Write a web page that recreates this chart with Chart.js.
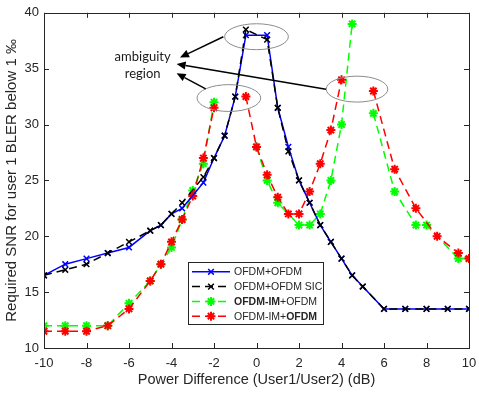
<!DOCTYPE html>
<html>
<head>
<meta charset="utf-8">
<script src="https://cdn.jsdelivr.net/npm/chart.js@4/dist/chart.umd.min.js"></script>
<style>
  html, body { margin: 0; padding: 0; background: #fff; }
  #wrap { width: 479px; height: 393px; position: relative; }
</style>
</head>
<body>
<div id="wrap"><canvas id="snr_chart"></canvas></div>
<script>
// power difference values (dB) and required SNR
const ofdmX = [-10, -9, -8, -7, -6, -5, -4.5, -4, -3.5, -2.5, -2, -1.5, -1, -0.5, 0.5, 1, 1.5, 2, 2.5, 3, 3.5, 4, 4.5, 5, 6, 7, 8, 9, 10];
const ofdmY = [16.5, 17.5, 18, 18.5, 19, 20.5, 21, 22, 22.5, 24.8, 27, 29, 32.5, 38, 38, 31.5, 28, 25, 23, 21, 19.5, 18, 16.5, 15.5, 13.5, 13.5, 13.5, 13.5, 13.5];
const sicX = ofdmX;
const sicY = [16.5, 17, 17.5, 18.5, 19.5, 20.5, 21, 22, 23, 25.3, 27, 29, 32.5, 38.5, 37.6, 31.5, 27.6, 25, 23, 21, 19.5, 18, 16.5, 15.5, 13.5, 13.5, 13.5, 13.5, 13.5];
// null = break in the curve
const imOfdmX = [-10, -9, -8, -7, -6, -5, -4.5, -4, -3.5, -3, -2.5, -2, -1, 0, 0.5, 1, 2, 2.5, 3, 3.5, 4, 4.5, 5, 5.5, 6.5, 7.5, 8, 9.5, 10];
const imOfdmY = [12, 12, 12, 12, 14, 16, 17.5, 19, 21.5, 24.1, 26.5, 32, null, 28, 25, 23, 21, 21, 22, 25, 30, 39, null, 31, 24, 21, 21, 18, 18];
const ofdmImX = [-10, -9, -8, -7, -6, -5, -4.5, -4, -3.5, -3, -2.5, -2, -1, -0.5, 0, 0.5, 1, 1.5, 2, 2.5, 3, 3.5, 4, 5, 5.5, 6.5, 7.5, 8.5, 9.5, 10];
const ofdmImY = [11.5, 11.5, 11.5, 12, 13.5, 16, 17.5, 19.5, 21.5, 23.6, 27, 31.5, null, 32.5, 28, 25.5, 23.5, 22, 22, 24, 26.5, 29.5, 34, null, 33, 26, 22.5, 20, 18.5, 18];

const xTicks = [-10, -8, -6, -4, -2, 0, 2, 4, 6, 8, 10];
const yTicks = [10, 15, 20, 25, 30, 35, 40];

// annotation: ellipses (cx, cy, rx, ry in data units), arrows and label
const ellipseCx = [0, -1.3, 4.73];
const ellipseCy = [37.86, 32.37, 33.17];
const ellipseRx = [1.5, 1.5, 1.45];
const ellipseRy = [1.16, 1.2, 1.16];
const arrowFrom = [[-1.56, 37.86], [3.27, 33.15], [-2.39, 33.19]];
const arrowTo = [[-3.6, 36.0], [-3.76, 35.42], [-3.76, 34.58]];
const noteLines = ["ambiguity", "region"];
const noteX = -5.36;
const noteY = [36.07, 34.58];

const legendItems = [
  [["OFDM+OFDM", false]],
  [["OFDM+OFDM SIC", false]],
  [["OFDM-IM", true], ["+OFDM", false]],
  [["OFDM-IM+", false], ["OFDM", true]]
];

const zip = (xs, ys) => xs.map((x, i) => ({ x: x, y: ys[i] }));

const AXIS_COL = "#262626";
const FONT = "'Liberation Sans', Arial, sans-serif";

function drawMarker(ctx, style, x, y, r, col, lw) {
  ctx.save();
  ctx.strokeStyle = col;
  ctx.lineWidth = lw;
  ctx.setLineDash([]);
  ctx.beginPath();
  const d = r * Math.SQRT1_2;
  ctx.moveTo(x - d, y - d); ctx.lineTo(x + d, y + d);
  ctx.moveTo(x - d, y + d); ctx.lineTo(x + d, y - d);
  if (style === "star") {
    ctx.moveTo(x - r, y); ctx.lineTo(x + r, y);
    ctx.moveTo(x, y - r); ctx.lineTo(x, y + r);
  }
  ctx.stroke();
  ctx.restore();
}

const annotate = {
  id: "annotate",
  afterDatasetsDraw(chart) {
    const ctx = chart.ctx;
    const xs = chart.scales.x, ys = chart.scales.y;
    const a = chart.chartArea;
    ctx.save();
    // box and inward ticks
    ctx.strokeStyle = AXIS_COL;
    ctx.lineWidth = 1;
    ctx.setLineDash([]);
    ctx.strokeRect(Math.round(a.left) + 0.5, Math.round(a.top) + 0.5, Math.round(a.right - a.left), Math.round(a.bottom - a.top));
    ctx.beginPath();
    for (const t of xTicks) {
      const px = Math.round(xs.getPixelForValue(t)) + 0.5;
      ctx.moveTo(px, a.bottom); ctx.lineTo(px, a.bottom - 5);
      ctx.moveTo(px, a.top); ctx.lineTo(px, a.top + 5);
    }
    for (const t of yTicks) {
      const py = Math.round(ys.getPixelForValue(t)) + 0.5;
      ctx.moveTo(a.left, py); ctx.lineTo(a.left + 5, py);
      ctx.moveTo(a.right, py); ctx.lineTo(a.right - 5, py);
    }
    ctx.stroke();

    // ellipses
    ctx.strokeStyle = "#8c8c8c";
    ctx.lineWidth = 1;
    for (let i = 0; i < ellipseCx.length; i++) {
      const cx = xs.getPixelForValue(ellipseCx[i]);
      const cy = ys.getPixelForValue(ellipseCy[i]);
      const rx = Math.abs(xs.getPixelForValue(ellipseCx[i] + ellipseRx[i]) - cx);
      const ry = Math.abs(ys.getPixelForValue(ellipseCy[i] + ellipseRy[i]) - cy);
      ctx.beginPath();
      ctx.ellipse(cx, cy, rx, ry, 0, 0, Math.PI * 2);
      ctx.stroke();
    }

    // arrows
    ctx.strokeStyle = "#000";
    ctx.fillStyle = "#000";
    ctx.lineWidth = 1.5;
    for (let i = 0; i < arrowFrom.length; i++) {
      const x0 = xs.getPixelForValue(arrowFrom[i][0]), y0 = ys.getPixelForValue(arrowFrom[i][1]);
      const x1 = xs.getPixelForValue(arrowTo[i][0]), y1 = ys.getPixelForValue(arrowTo[i][1]);
      const ang = Math.atan2(y1 - y0, x1 - x0);
      const hl = 9, hw = 4;
      const bx = x1 - hl * Math.cos(ang), by = y1 - hl * Math.sin(ang);
      ctx.beginPath();
      ctx.moveTo(x0, y0); ctx.lineTo(bx, by);
      ctx.stroke();
      ctx.beginPath();
      ctx.moveTo(x1, y1);
      ctx.lineTo(bx + hw * Math.sin(ang), by - hw * Math.cos(ang));
      ctx.lineTo(bx - hw * Math.sin(ang), by + hw * Math.cos(ang));
      ctx.closePath();
      ctx.fill();
    }

    // note text
    ctx.fillStyle = "#1a1a1a";
    ctx.font = "13px Lato, 'Open Sans', sans-serif";
    ctx.textAlign = "center";
    ctx.textBaseline = "middle";
    noteLines.forEach((s, i) => {
      ctx.fillText(s, xs.getPixelForValue(noteX), ys.getPixelForValue(noteY[i]));
    });

    // legend
    const lx = a.left + 144, ly = a.top + 249, lw = 135, lh = 62;
    ctx.fillStyle = "#fff";
    ctx.fillRect(lx, ly, lw, lh);
    ctx.strokeStyle = "#262626";
    ctx.lineWidth = 1;
    ctx.strokeRect(Math.round(lx) + 0.5, Math.round(ly) + 0.5, lw, lh);
    const sets = chart.data.datasets;
    ctx.textAlign = "left";
    ctx.textBaseline = "middle";
    legendItems.forEach((parts, i) => {
      const ds = sets[i];
      const yy = ly + 10 + i * 14.8;
      ctx.strokeStyle = ds.borderColor;
      ctx.lineWidth = 1.5;
      ctx.setLineDash(ds.borderDash || []);
      ctx.beginPath();
      ctx.moveTo(lx + 4, yy); ctx.lineTo(lx + 42, yy);
      ctx.stroke();
      ctx.setLineDash([]);
      drawMarker(ctx, ds.pointStyle === "star" ? "star" : "x", lx + 23, yy, ds.pointRadius, ds.borderColor, ds.pointBorderWidth);
      let tx = lx + 46;
      ctx.fillStyle = AXIS_COL;
      for (const [txt, bold] of parts) {
        ctx.font = (bold ? "bold " : "") + "10.5px " + FONT;
        ctx.fillText(txt, tx, yy + 0.5);
        tx += ctx.measureText(txt).width;
      }
    });
    ctx.restore();
  }
};

const ctx = document.getElementById("snr_chart").getContext("2d");
const snr_chart = new Chart(ctx, {
  type: "line",
  data: {
    datasets: [
      {
        label: "OFDM+OFDM",
        data: zip(ofdmX, ofdmY),
        borderColor: "#0000ff",
        borderWidth: 1.5,
        pointStyle: "crossRot",
        pointRadius: 4,
        pointBorderWidth: 1.5,
        order: 2
      },
      {
        label: "OFDM+OFDM SIC",
        data: zip(sicX, sicY),
        borderColor: "#000000",
        borderWidth: 1.5,
        borderDash: [8, 5],
        pointStyle: "crossRot",
        pointRadius: 4,
        pointBorderWidth: 1.5,
        order: 1
      },
      {
        label: "OFDM-IM+OFDM",
        data: zip(imOfdmX, imOfdmY),
        borderColor: "#00ff00",
        borderWidth: 1.5,
        borderDash: [8, 5],
        pointStyle: "star",
        pointRadius: 4.5,
        pointBorderWidth: 2,
        order: 4
      },
      {
        label: "OFDM-IM+OFDM",
        data: zip(ofdmImX, ofdmImY),
        borderColor: "#ff0000",
        borderWidth: 1.5,
        borderDash: [8, 5],
        pointStyle: "star",
        pointRadius: 4.5,
        pointBorderWidth: 2,
        order: 3
      }
    ]
  },
  options: {
    responsive: true,
    maintainAspectRatio: false,
    animation: false,
    spanGaps: false,
    layout: { padding: { top: 5, right: 0, left: 0, bottom: 0 } },
    elements: { line: { tension: 0, fill: false } },
    plugins: {
      legend: { display: false },
      tooltip: { enabled: false }
    },
    scales: {
      x: {
        type: "linear",
        min: -10,
        max: 10,
        afterBuildTicks: (s) => { s.ticks = xTicks.map(v => ({ value: v })); },
        afterFit: (s) => { s.height = 45; s.paddingRight = 10; s.paddingLeft = 0; },
        ticks: { color: AXIS_COL, font: { family: FONT, size: 13 }, padding: 8, maxRotation: 0 },
        grid: { display: false, drawTicks: false },
        border: { display: false },
        title: { display: true, text: "Power Difference (User1/User2) (dB)", color: AXIS_COL, font: { family: FONT, size: 14.5 }, padding: { top: 2, bottom: 4 } }
      },
      y: {
        type: "linear",
        min: 10,
        max: 40,
        afterBuildTicks: (s) => { s.ticks = yTicks.map(v => ({ value: v })); },
        afterFit: (s) => { s.width = 44; },
        ticks: { color: AXIS_COL, font: { family: FONT, size: 13 }, padding: 5 },
        grid: { display: false, drawTicks: false },
        border: { display: false },
        title: { display: true, text: "Required SNR for user 1 BLER below 1 ‰", color: AXIS_COL, font: { family: FONT, size: 15 }, padding: { top: 3, bottom: 3 } }
      }
    }
  },
  plugins: [annotate]
});
</script>
</body>
</html>
